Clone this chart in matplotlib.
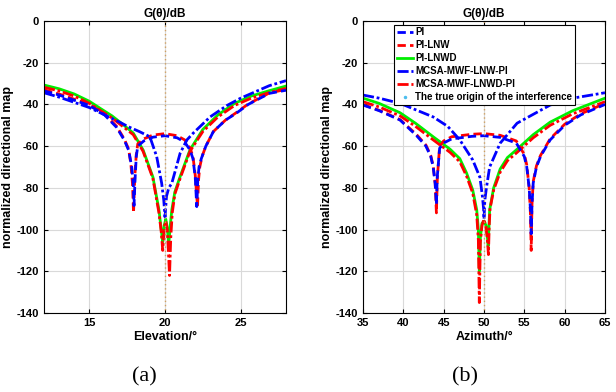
import matplotlib
matplotlib.use('Agg')
import matplotlib.pyplot as plt
from matplotlib.lines import Line2D
import numpy as np

plt.rcParams['font.family'] = ['Liberation Sans', 'DejaVu Sans']
plt.rcParams['font.weight'] = 'bold'
plt.rcParams['axes.unicode_minus'] = False

# ---- (a) elevation cut ----
el_pi = [12, 13, 14, 15, 16, 16.8, 17.3, 17.6, 17.8, 17.9, 17.95, 18.02, 18.1, 18.2, 18.6, 19.2,
         20.0, 20.8, 21.3, 21.65, 21.85, 22.0, 22.1, 22.17, 22.25, 22.4, 22.7, 23.2, 24.0, 24.7,
         25.5, 26.9, 28]
db_pi = [-33.5, -35.5, -38, -40.5, -45, -51, -57, -62, -70, -78, -88.5, -76, -65, -60, -57.5, -55.7,
         -55, -56, -58, -61.8, -66, -75, -89, -76, -70, -66, -60, -53, -47.5, -44.3,
         -40, -34.7, -33.2]

el_lnw = [12, 13, 14, 15, 16, 16.8, 17.3, 17.6, 17.75, 17.85, 17.92, 18.0, 18.1, 18.2, 18.6, 19.2,
          20.0, 20.8, 21.3, 21.65, 21.85, 22.0, 22.1, 22.15, 22.22, 22.3, 22.45, 22.7, 23.2, 24.0,
          24.7, 25.5, 26.9, 28]
db_lnw = [-33, -35, -37.5, -40, -44.5, -50.5, -56.5, -61.5, -69, -78, -92, -75, -64, -59, -56.5, -54.7,
          -54, -55, -57, -60.8, -65, -74, -84, -89, -76, -70, -65, -60, -53, -47.5,
          -44, -39.8, -34.5, -32.8]

el_lnwd = [12, 13, 14, 15, 15.7, 16.5, 17.2, 17.9, 18.55, 19.2, 19.6, 19.75, 19.85, 19.95, 20.05,
           20.15, 20.25, 20.35, 20.45, 20.65, 21.0, 21.65, 22.5, 23.5, 24.6, 25.7, 26.9, 28]
db_lnwd = [-30.7, -32.5, -35, -38.5, -41.8, -45.5, -49.5, -53.7, -61.8, -74.8, -90.6, -100, -106, -98, -95,
           -99, -107, -98, -90.6, -82, -74.6, -61.8, -52, -45, -39.5, -36, -33.4, -31.2]

el_mlnw = [12, 13, 14, 15, 16, 17, 17.58, 18.3, 19.0, 19.45, 19.78, 19.92, 20.0, 20.1, 20.25, 20.45,
           21.0, 21.45, 21.86, 22.98, 24.1, 25.0, 26.9, 28]
db_mlnw = [-34.4, -36.5, -39, -41.5, -45, -48.5, -50.7, -53, -55.5, -65, -77.8, -86, -94, -84, -80, -77.8,
           -63.4, -57, -53.8, -46, -40.5, -37, -31, -28.6]

el_mlnwd = [12, 13, 14, 15, 15.7, 16.5, 17.2, 17.9, 18.55, 19.2, 19.6, 19.75, 19.85, 19.95, 20.05,
            20.15, 20.22, 20.3, 20.38, 20.48, 20.65, 21.0, 21.65, 22.5, 23.5, 24.6, 25.7, 26.9, 28]
db_mlnwd = [-31.8, -33.5, -36, -39.5, -42.8, -46.5, -50.5, -54.5, -62.5, -75.5, -92, -101, -110, -99, -96,
            -100, -110, -122, -104, -92, -83, -75.5, -62.5, -53, -46, -40.5, -37, -34.3, -32.3]

el_true = [20, 20]

# ---- (b) azimuth cut ----
az_pi = [35, 37, 39.6, 41.65, 42.8, 43.4, 43.7, 43.95, 44.1, 44.2, 44.5, 45, 46, 48.5, 50, 52, 54,
         55.0, 55.3, 55.6, 55.75, 55.85, 55.95, 56.1, 56.5, 57.0, 58.2, 60, 62, 65]
db_pi_b = [-40.3, -43, -47.5, -55, -60, -65, -70, -78, -88, -75, -61, -58.5, -56.5, -55.3, -55, -55.8, -58.5,
           -65, -70, -80, -90, -102, -88, -77.7, -70, -65, -57, -50, -45, -40]

az_lnw = [35, 37, 39.6, 41.65, 42.8, 43.4, 43.7, 43.95, 44.1, 44.22, 44.5, 45, 46, 48.5, 50, 52, 54,
          55.0, 55.3, 55.6, 55.75, 55.85, 55.95, 56.1, 56.5, 57.0, 58.2, 60, 62, 65]
db_lnw_b = [-40.1, -42.8, -47.3, -54.5, -59.5, -64.5, -69.5, -78, -92, -75, -60, -57.5, -55.5, -54.3, -54, -54.8, -57.5,
            -64, -69, -80, -92, -110, -88, -77, -69.5, -64.5, -56.5, -49.5, -44.5, -39.5]

az_lnwd = [35, 37, 39.6, 41.5, 43.7, 45.8, 47.0, 47.85, 48.6, 49.1, 49.3, 49.42, 49.55, 49.75, 50.0,
           50.25, 50.4, 50.52, 50.62, 50.7, 51.2, 52.0, 52.9, 54.1, 56.1, 58.2, 61, 65]
db_lnwd_b = [-37, -39.5, -44, -49, -55.5, -61.5, -66, -73, -81, -90.6, -100, -120, -104, -97, -96,
             -98, -103, -108, -98, -90.6, -80, -71, -65.5, -61.5, -54.5, -48.5, -43, -37]

az_mlnw = [35, 37, 39.6, 43.7, 45.5, 47.0, 48.6, 49.5, 49.8, 49.95, 50.0, 50.1, 50.3, 50.7, 52.0, 54.1,
           58.2, 61, 65]
db_mlnw_b = [-35.5, -37, -39.5, -46, -50.5, -57, -66.6, -75, -84, -90, -95, -86, -80, -70, -58.6, -49,
             -40.3, -37, -34.4]

az_mlnwd = [35, 37, 39.6, 41.5, 43.7, 45.8, 47.0, 47.85, 48.6, 49.1, 49.3, 49.42, 49.55, 49.75, 50.0,
            50.25, 50.4, 50.55, 50.65, 50.75, 51.2, 52.0, 52.9, 54.1, 56.1, 58.2, 61, 65]
db_mlnwd_b = [-38.7, -41.2, -45.5, -50.5, -57, -63, -67.5, -74.5, -82.5, -93, -105, -135, -106, -98, -95,
              -99, -104, -112, -98, -90, -81, -72.5, -67, -63, -56, -50, -44.5, -38.7]

az_true = [50, 50]
true_db = [0, -140]

labels = ['PI', 'PI-LNW', 'PI-LNWD', 'MCSA-MWF-LNW-PI', 'MCSA-MWF-LNWD-PI',
          'The true origin of the interference']

fig = plt.figure(figsize=(6.16, 3.92), dpi=100)
ax_a = fig.add_axes([44 / 616, 79 / 392, 242 / 616, 292 / 392])
ax_b = fig.add_axes([363 / 616, 79 / 392, 242 / 616, 292 / 392])

styles = [('b', (0, (3, 1.5))), ('r', (0, (3, 1.5))), ('#00ee00', '-'),
          ('b', (0, (4, 1, 1, 1))), ('r', (0, (4, 1, 1, 1)))]


def draw(ax, xs, ys, xt):
    order = [2, 4, 1, 3, 0]
    lines = {}
    for i in order:
        c, ls = styles[i]
        lines[i], = ax.plot(xs[i], ys[i], color=c, linestyle=ls, linewidth=2.0)
    ax.plot(xt, true_db, color='#d0a060', linestyle=(0, (1, 2)), linewidth=1.0)
    ax.set_ylim(-140, 0)
    ax.set_yticks(np.arange(-140, 1, 20))
    ax.grid(True, color='#d9d9d9', linewidth=0.8)
    ax.set_axisbelow(True)
    ax.tick_params(direction='in', top=True, right=True, labelsize=8, length=3)
    ax.set_title('G(θ)/dB', fontsize=8.5, fontweight='bold', pad=3)
    ax.set_ylabel('normalized directional map', fontsize=9, fontweight='bold', labelpad=2)
    for s in ax.spines.values():
        s.set_linewidth(0.8)
    hs = [lines[i] for i in range(5)]
    hs.append(Line2D([], [], linestyle='none', marker='.', markersize=3, color='#4dbeee'))
    return hs


draw(ax_a, [el_pi, el_lnw, el_lnwd, el_mlnw, el_mlnwd], [db_pi, db_lnw, db_lnwd, db_mlnw, db_mlnwd], el_true)
ax_a.set_xlim(12, 28)
ax_a.set_xticks([15, 20, 25])
ax_a.set_xlabel('Elevation/°', fontsize=9, fontweight='bold', labelpad=2)

hs = draw(ax_b, [az_pi, az_lnw, az_lnwd, az_mlnw, az_mlnwd],
          [db_pi_b, db_lnw_b, db_lnwd_b, db_mlnw_b, db_mlnwd_b], az_true)
ax_b.set_xlim(35, 65)
ax_b.set_xticks(np.arange(35, 66, 5))
ax_b.set_xlabel('Azimuth/°', fontsize=9, fontweight='bold', labelpad=2)

for ax in (ax_a, ax_b):
    for lab in ax.get_xticklabels() + ax.get_yticklabels():
        lab.set_fontweight('bold')

leg = ax_b.legend(hs, labels, loc='upper left', bbox_to_anchor=(0.128, 0.988), fontsize=7,
                  handlelength=1.7, handletextpad=0.2, borderpad=0.3, labelspacing=0.3,
                  borderaxespad=0.0, frameon=True, fancybox=False, edgecolor='black', framealpha=1)
leg.get_frame().set_linewidth(0.8)
for t in leg.get_texts():
    t.set_fontweight('bold')

fig.text(144 / 616, 1 - 377 / 392, '(a)', fontsize=16, family='Liberation Serif', fontweight='normal',
         ha='center', va='center')
fig.text(465 / 616, 1 - 377 / 392, '(b)', fontsize=16, family='Liberation Serif', fontweight='normal',
         ha='center', va='center')

fig.savefig('out.png', dpi=100)
